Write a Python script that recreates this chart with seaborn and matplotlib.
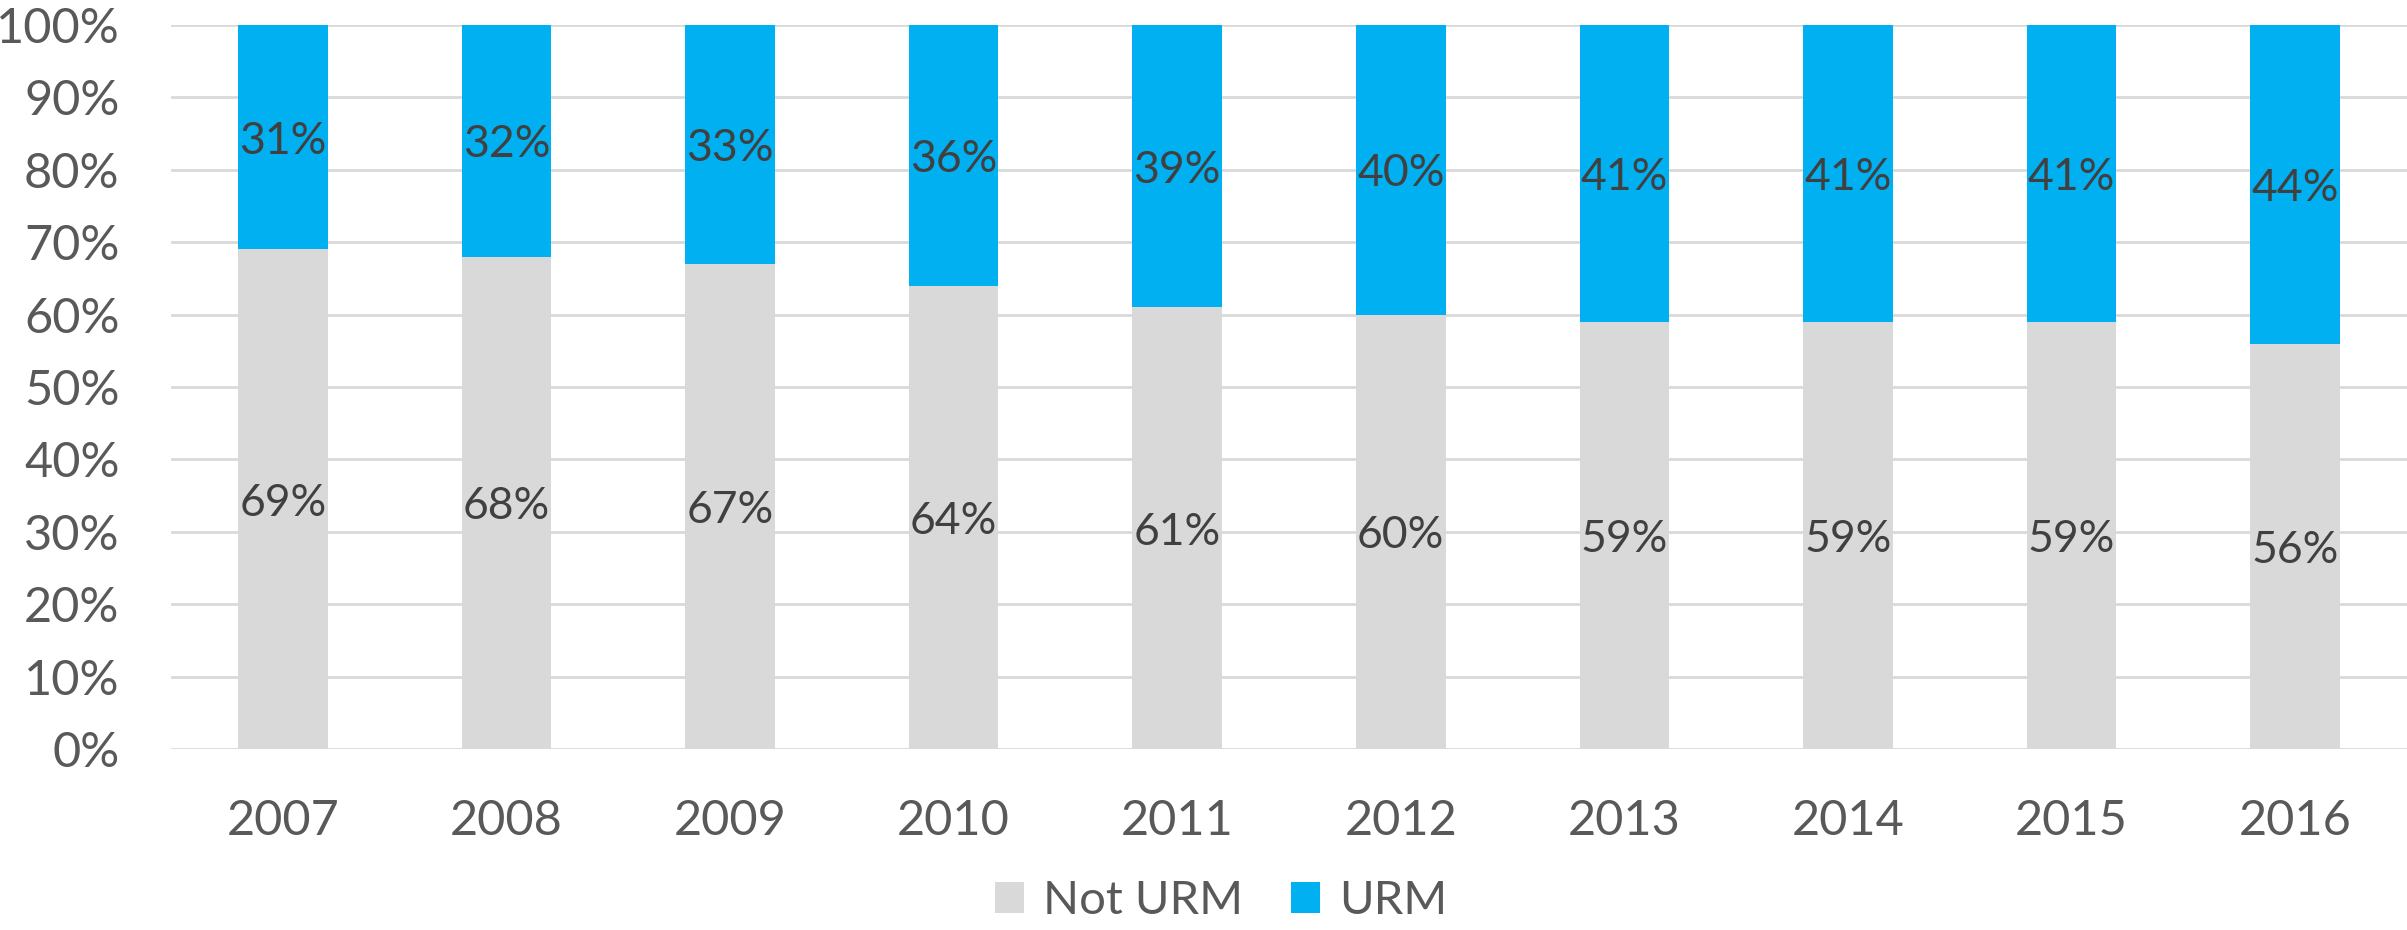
import matplotlib
matplotlib.use("Agg")
import matplotlib.pyplot as plt
from matplotlib.patches import Patch
import seaborn as sns
import pandas as pd

years = ["2007", "2008", "2009", "2010", "2011", "2012", "2013", "2014", "2015", "2016"]
not_urm = [69, 68, 67, 64, 61, 60, 59, 59, 59, 56]
urm = [31, 32, 33, 36, 39, 40, 41, 41, 41, 44]
series_names = ["Not URM", "URM"]
yticks = [0, 10, 20, 30, 40, 50, 60, 70, 80, 90, 100]

GREY = "#D9D9D9"
BLUE = "#00B0F0"

sns.set_theme(style="white")
plt.rcParams["font.family"] = ["Lato", "DejaVu Sans"]

df = pd.DataFrame({"year": years, "not_urm": not_urm, "urm": urm})
df["total"] = df["not_urm"] + df["urm"]

fig = plt.figure(figsize=(24.07, 9.30), dpi=100)
ax = fig.add_axes([171 / 2407, 1 - 749 / 930, 1 - 171 / 2407, (749 - 25) / 930])

sns.barplot(data=df, x="year", y="total", color=BLUE, width=0.4, ax=ax,
            saturation=1, linewidth=0, zorder=3)
sns.barplot(data=df, x="year", y="not_urm", color=GREY, width=0.4, ax=ax,
            saturation=1, linewidth=0, zorder=3)

for i, (n, u) in enumerate(zip(not_urm, urm)):
    ax.text(i, n / 2, f"{n}%", ha="center", va="center_baseline", fontsize=32, color="#404040", zorder=5)
    ax.text(i, n + u / 2, f"{u}%", ha="center", va="center_baseline", fontsize=32, color="#404040", zorder=5)

ax.set_ylim(0, 100)
ax.set_xlim(-0.5, len(years) - 0.5)
ax.set_yticks(yticks)
ax.set_yticklabels([f"{t}%" for t in yticks])
ax.set_xlabel("")
ax.set_ylabel("")
ax.tick_params(axis="y", labelsize=35, labelcolor="#595959", length=0, pad=37)
ax.tick_params(axis="x", labelsize=35, labelcolor="#595959", length=0, pad=36)
ax.yaxis.grid(True, color="#D9D9D9", linewidth=2, zorder=0)
ax.set_axisbelow(True)
for s in ax.spines.values():
    s.set_visible(False)

handles = [Patch(facecolor=GREY, edgecolor="none"), Patch(facecolor=BLUE, edgecolor="none")]
fig.legend(handles, series_names, loc="center", bbox_to_anchor=(1221 / 2407, 1 - 901 / 930),
           ncol=2, frameon=False, fontsize=34, labelcolor="#595959",
           handlelength=0.62, handleheight=0.62, handletextpad=0.4, columnspacing=1.0)

fig.savefig("out.png", dpi=100)
